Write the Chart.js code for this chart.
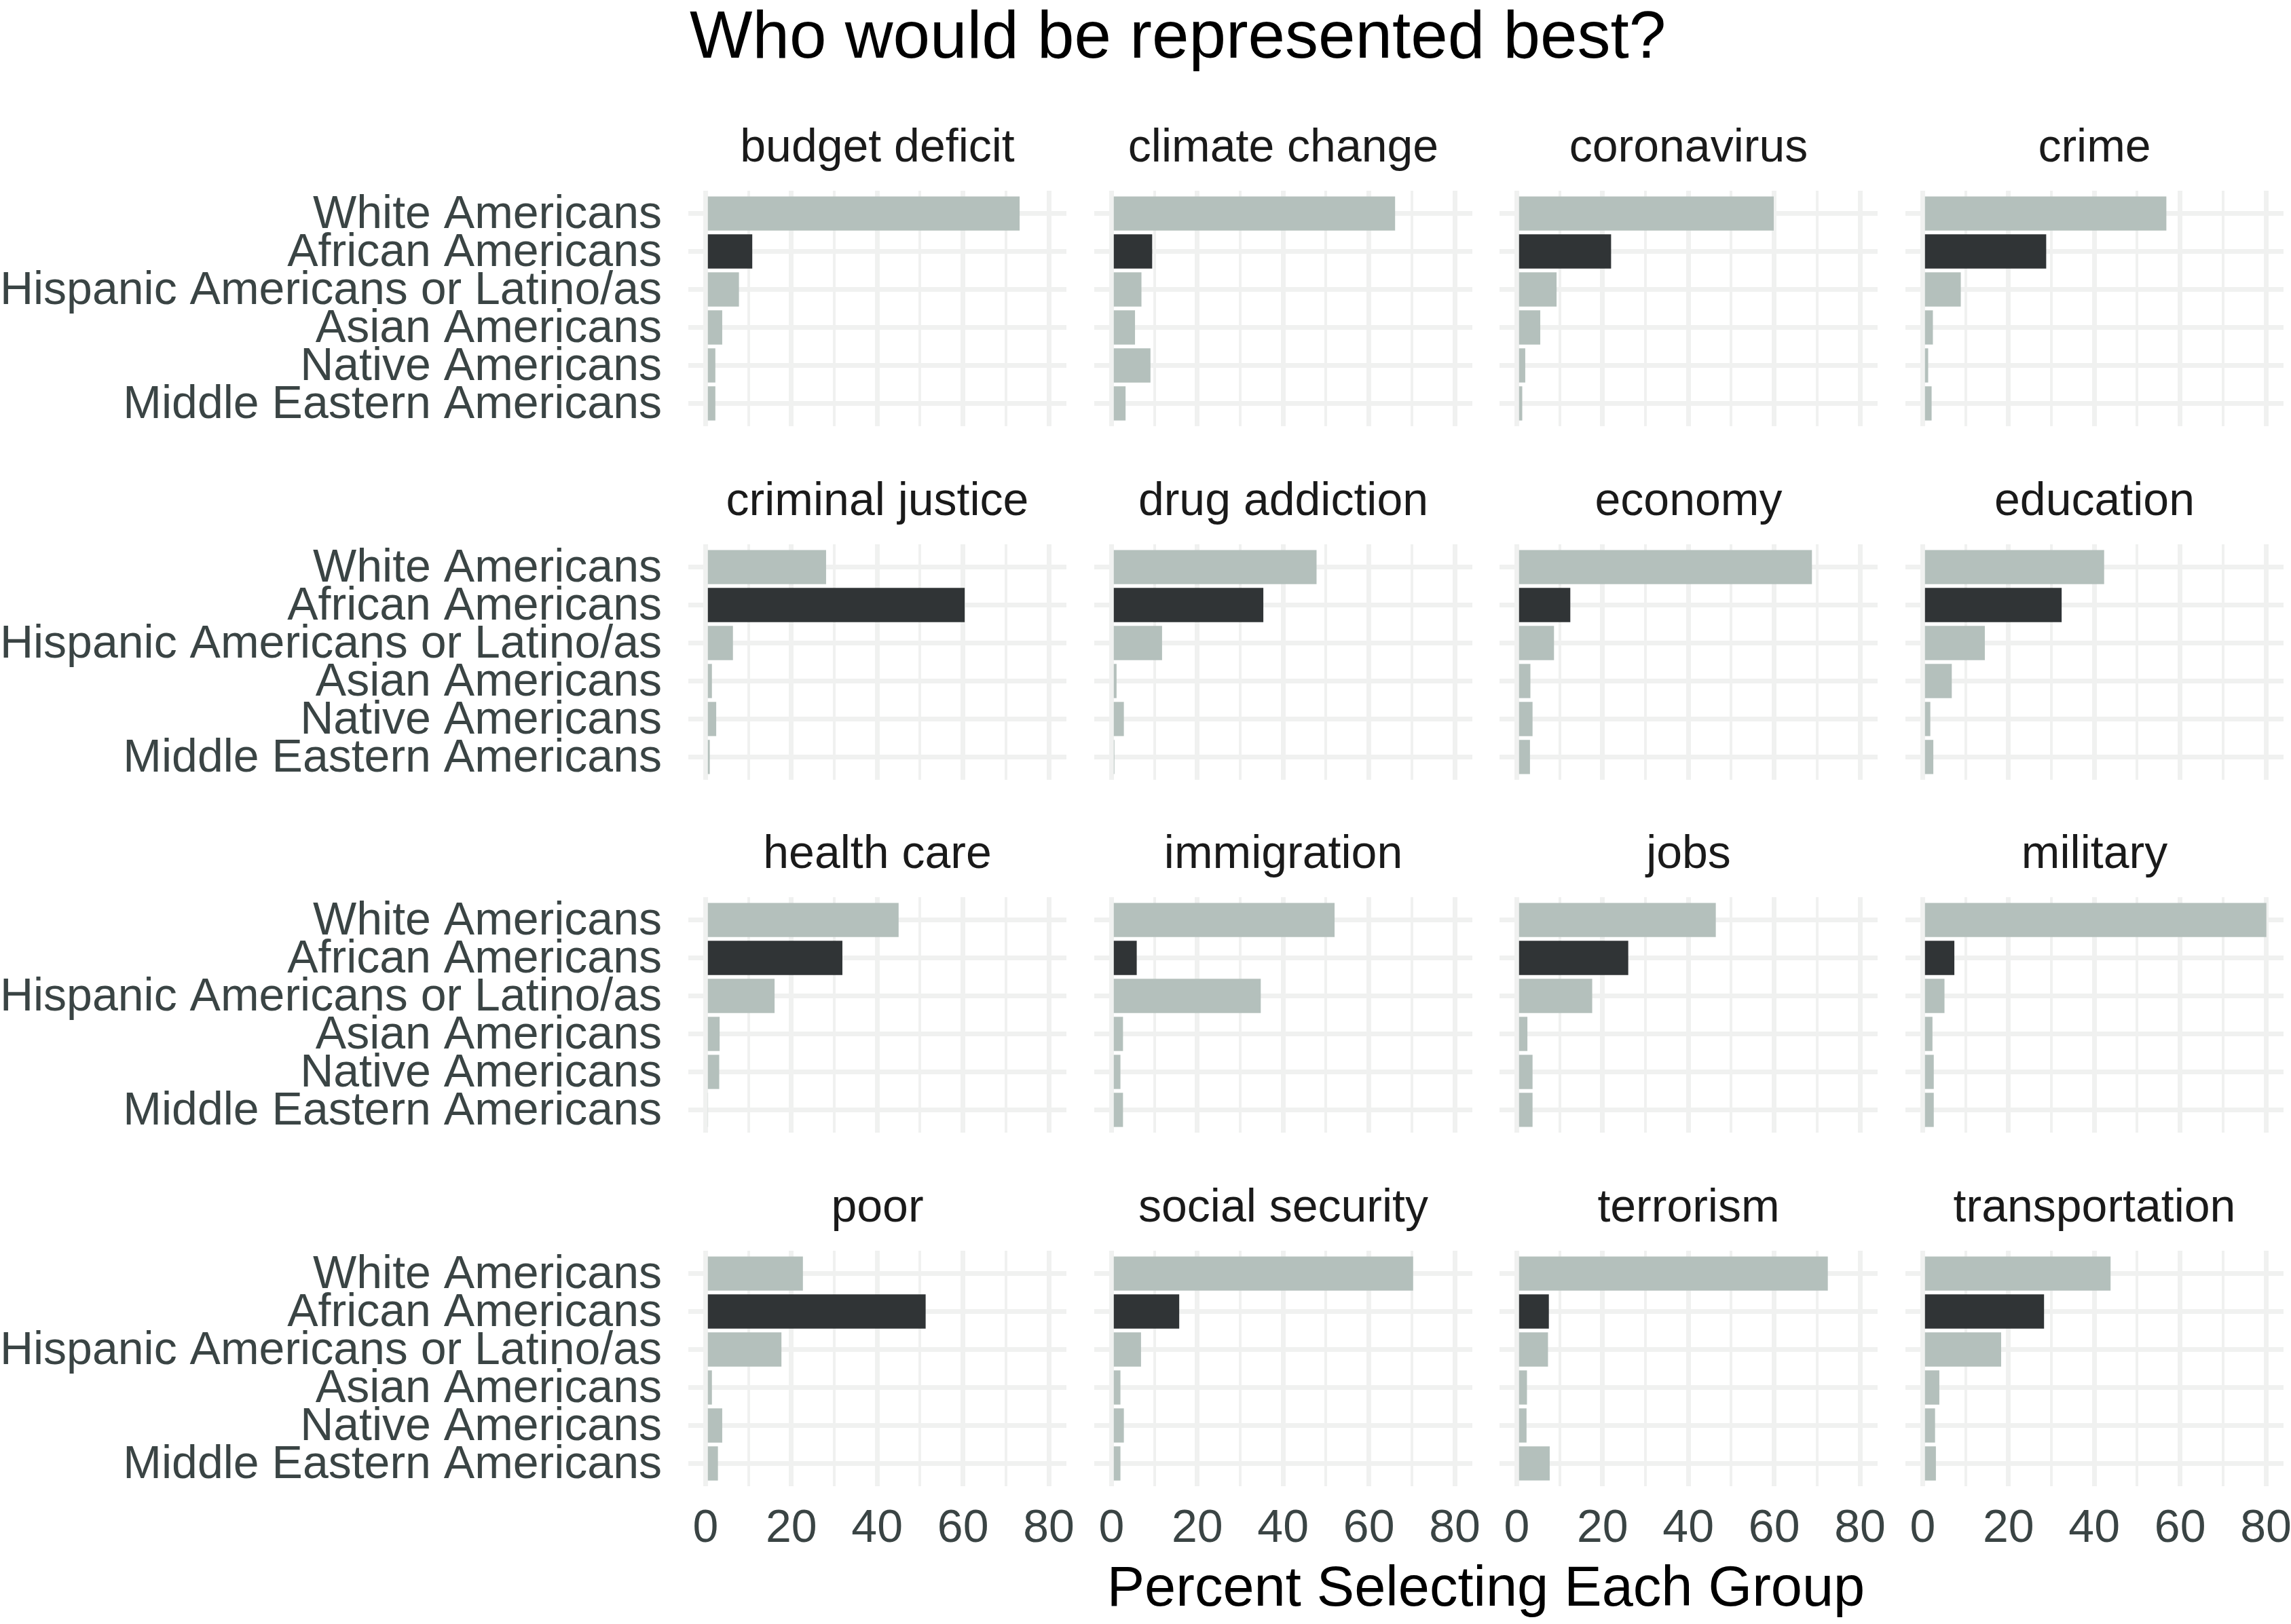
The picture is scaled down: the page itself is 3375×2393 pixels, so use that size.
<!DOCTYPE html>
<html>
<head>
<meta charset="utf-8">
<script src="https://cdn.jsdelivr.net/npm/chart.js@4/dist/chart.umd.min.js"></script>
<style>
  html, body { margin: 0; padding: 0; background: #fff; }
  #page { position: relative; width: 3375px; height: 2393px; background: #fff; overflow: hidden;
          font-family: 'Liberation Sans', Arial, Helvetica, sans-serif; }
  .box { position: absolute; }
  #title { position: absolute; left: 1016px; top: 2px; font-size: 98px; line-height: 98px; color: #000; white-space: nowrap; }
  #xtitle { position: absolute; left: 1014px; width: 2350px; top: 2296px; font-size: 83px; line-height: 83px;
            color: #000; text-align: center; white-space: nowrap; }
</style>
</head>
<body>
<div id="page">
  <div id="title">Who would be represented best?</div>
  <div id="xtitle">Percent Selecting Each Group</div>
</div>
<script>
const groups = ['White Americans', 'African Americans', 'Hispanic Americans or Latino/as',
  'Asian Americans', 'Native Americans', 'Middle Eastern Americans'];

const issues = ['budget deficit', 'climate change', 'coronavirus', 'crime',
  'criminal justice', 'drug addiction', 'economy', 'education',
  'health care', 'immigration', 'jobs', 'military',
  'poor', 'social security', 'terrorism', 'transportation'];

// percent selecting each group, in the order of `groups`
const budgetDeficit   = [73.2, 10.9, 7.8, 3.9, 2.3, 2.3];
const climateChange   = [66.1, 9.5, 7.0, 5.5, 9.1, 3.3];
const coronavirus     = [59.9, 22.0, 9.3, 5.5, 2.0, 1.3];
const crime           = [56.8, 28.8, 8.9, 2.4, 1.3, 2.1];
const criminalJustice = [28.1, 60.4, 6.4, 1.5, 2.5, 1.0];
const drugAddiction   = [47.8, 35.4, 11.8, 1.2, 2.9, 0.7];
const economy         = [68.8, 12.5, 8.7, 3.2, 3.7, 3.1];
const education       = [42.3, 32.4, 14.5, 6.8, 1.8, 2.5];
const healthCare      = [45.0, 31.9, 16.1, 3.3, 3.2, 0.6];
const immigration     = [52.0, 5.9, 34.8, 2.7, 2.1, 2.7];
const jobs            = [46.4, 26.0, 17.6, 2.5, 3.7, 3.7];
const military        = [80.1, 7.4, 5.1, 2.3, 2.6, 2.6];
const poor            = [22.7, 51.3, 17.7, 1.5, 3.9, 2.9];
const socialSecurity  = [70.3, 15.8, 6.9, 2.1, 2.9, 2.1];
const terrorism       = [72.5, 7.5, 7.3, 2.4, 2.3, 7.7];
const transportation  = [43.8, 28.3, 18.3, 3.9, 2.9, 3.1];

const issueValues = [budgetDeficit, climateChange, coronavirus, crime,
  criminalJustice, drugAddiction, economy, education,
  healthCare, immigration, jobs, military,
  poor, socialSecurity, terrorism, transportation];

const xGridValues = [0, 10, 20, 30, 40, 50, 60, 70, 80];
const xLabelValues = [0, 20, 40, 60, 80];

// layout (px)
const FONT = "'Liberation Sans', Arial, Helvetica, sans-serif";
const PANEL_LEFT0 = 1014, COL_STEP = 597.6, PANEL_W = 557;
const PANEL_TOP0 = 281, ROW_STEP = 520.5, PANEL_H = 347;
const STRIP = 100, EXTRA_R = 45, EXTRA_B = 10, XAXIS_H = 110;

const LIGHT = '#b4c0bc', DARK = '#303436', GRID = '#f0f1f0', LABEL = '#3a4444';

const stripPlugin = {
  id: 'strip',
  afterDraw(chart, args, opts) {
    const { ctx, chartArea } = chart;
    ctx.save();
    ctx.font = `68px ${FONT}`;
    ctx.fillStyle = '#1a1a1a';
    ctx.textAlign = 'center';
    ctx.textBaseline = 'alphabetic';
    ctx.fillText(opts.text, (chartArea.left + chartArea.right) / 2, chartArea.top - 43);
    ctx.restore();
  }
};

const page = document.getElementById('page');

issues.forEach((issue, k) => {
  const r = Math.floor(k / 4), c = k % 4;
  const pl = PANEL_LEFT0 + c * COL_STEP;
  const pt = PANEL_TOP0 + r * ROW_STEP;
  const firstCol = c === 0, lastRow = r === 3;

  const left = firstCol ? 0 : pl;
  const top = pt - STRIP;
  const width = pl + PANEL_W + EXTRA_R - left;
  const height = STRIP + PANEL_H + (lastRow ? XAXIS_H : EXTRA_B);

  const box = document.createElement('div');
  box.className = 'box';
  box.style.left = left + 'px';
  box.style.top = top + 'px';
  box.style.width = width + 'px';
  box.style.height = height + 'px';
  const canvas = document.createElement('canvas');
  box.appendChild(canvas);
  page.appendChild(box);

  const vals = issueValues[k];

  new Chart(canvas, {
    type: 'bar',
    data: {
      datasets: [{
        data: vals.map((v, i) => ({ x: v, y: i })),
        backgroundColor: groups.map(g => g === 'African Americans' ? DARK : LIGHT),
        borderWidth: 0,
        barPercentage: 0.9,
        categoryPercentage: 1
      }]
    },
    options: {
      indexAxis: 'y',
      responsive: true,
      maintainAspectRatio: false,
      animation: false,
      layout: { padding: { top: STRIP, right: EXTRA_R, bottom: lastRow ? 0 : EXTRA_B, left: 0 } },
      plugins: {
        legend: { display: false },
        tooltip: { enabled: false },
        strip: { text: issue }
      },
      scales: {
        x: {
          type: 'linear',
          min: -4.0,
          max: 84.1,
          offset: false,
          border: { display: false },
          grid: {
            color: GRID,
            offset: false,
            drawTicks: false,
            lineWidth: ctx => (ctx.tick && ctx.tick.value % 20 === 0) ? 7 : 4
          },
          afterBuildTicks: axis => { axis.ticks = xGridValues.map(v => ({ value: v })); },
          ticks: {
            display: lastRow,
            autoSkip: false,
            maxRotation: 0,
            padding: 22,
            color: LABEL,
            font: { family: FONT, size: 68 },
            callback: v => xLabelValues.includes(v) ? String(v) : ''
          },
          afterFit: axis => {
            axis.height = lastRow ? XAXIS_H : 0;
            axis.paddingLeft = 0; axis.paddingRight = 0;
          }
        },
        y: {
          type: 'linear',
          reverse: true,
          min: -0.6,
          max: groups.length - 0.4,
          offset: false,
          border: { display: false },
          grid: { color: GRID, offset: false, drawTicks: false, lineWidth: 7 },
          afterBuildTicks: axis => { axis.ticks = groups.map((g, i) => ({ value: i })); },
          ticks: {
            display: firstCol,
            autoSkip: false,
            padding: 39,
            labelOffset: 3,
            color: LABEL,
            font: { family: FONT, size: 68 },
            callback: v => groups[v]
          },
          afterFit: axis => {
            axis.width = firstCol ? pl : 0;
            axis.paddingTop = 0; axis.paddingBottom = 0;
          }
        }
      }
    },
    plugins: [stripPlugin]
  });
});
</script>
</body>
</html>
